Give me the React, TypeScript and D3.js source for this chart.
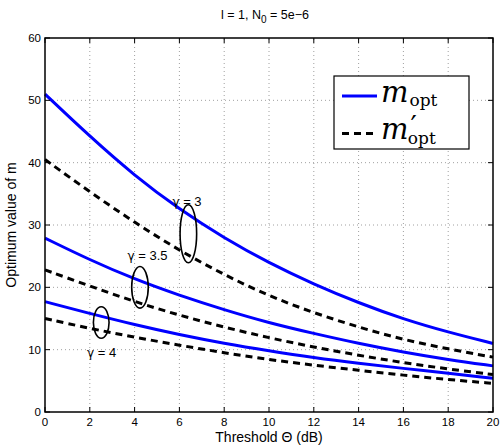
import React from "react";
import * as d3 from "d3";

const thresholds = [0, 2, 4, 6, 8, 10, 12, 14, 16, 18, 20];
const mOptG3 = [51.0, 44.2, 37.9, 32.5, 27.9, 23.9, 20.5, 17.5, 14.9, 12.8, 11.0];
const mPrimeG3 = [40.5, 35.3, 30.4, 25.9, 22.0, 18.6, 15.9, 13.6, 11.6, 10.1, 8.8];
const mOptG35 = [27.9, 24.4, 21.3, 18.7, 16.4, 14.3, 12.6, 11.0, 9.6, 8.4, 7.4];
const mPrimeG35 = [22.8, 20.2, 17.7, 15.5, 13.6, 11.9, 10.4, 9.1, 7.9, 6.9, 6.0];
const mOptG4 = [17.7, 15.8, 14.0, 12.4, 11.0, 9.8, 8.7, 7.8, 7.0, 6.2, 5.4];
const mPrimeG4 = [15.0, 13.4, 12.0, 10.7, 9.5, 8.4, 7.5, 6.7, 5.9, 5.2, 4.6];

const xTicks = [0, 2, 4, 6, 8, 10, 12, 14, 16, 18, 20];
const yTicks = [0, 10, 20, 30, 40, 50, 60];

const gammaValues = ["3", "3.5", "4"];
const ellipseCx = [6.4, 4.24, 2.51];
const ellipseCy = [28.6, 20.0, 14.36];
const ellipseRx = [0.37, 0.37, 0.35];
const ellipseRy = [4.65, 3.34, 2.53];
const labelX = [6.34, 4.58, 2.53];
const labelY = [33.0, 24.4, 8.8];

export default function App() {
  const W = 501, H = 446;
  const x = d3.scaleLinear().domain([0, 20]).range([45, 493]);
  const y = d3.scaleLinear().domain([0, 60]).range([412, 38]);
  const line = (vals: number[]) =>
    d3.line<number>().x((_, i) => x(thresholds[i])).y((v) => y(v)).curve(d3.curveBasis)(vals) || "";
  const solids = [mOptG3, mOptG35, mOptG4];
  const dashes = [mPrimeG3, mPrimeG35, mPrimeG4];
  const font = "'Liberation Sans', Arial, Helvetica, sans-serif";
  const serif = "'DejaVu Serif', serif";
  const [x0, x1] = x.range();
  const [y0, y1] = y.range();
  return (
    <svg width={W} height={H} style={{ position: "absolute", left: 0, top: 0, background: "#fff" }} fontFamily={font}>
      <rect x={0} y={0} width={W} height={H} fill="#fff" />
      {xTicks.slice(1, -1).map((t) => (
        <line key={"gx" + t} x1={x(t)} x2={x(t)} y1={y0} y2={y1} stroke="#888" strokeWidth={0.8} strokeDasharray="1,3" />
      ))}
      {yTicks.slice(1, -1).map((t) => (
        <line key={"gy" + t} x1={x0} x2={x1} y1={y(t)} y2={y(t)} stroke="#888" strokeWidth={0.8} strokeDasharray="1,3" />
      ))}
      {dashes.map((d, i) => (
        <path key={"d" + i} d={line(d)} fill="none" stroke="#000" strokeWidth={3} strokeDasharray="7,5" />
      ))}
      {solids.map((d, i) => (
        <path key={"s" + i} d={line(d)} fill="none" stroke="#0000ff" strokeWidth={3} />
      ))}
      {ellipseCx.map((cx, i) => (
        <g key={"e" + i}>
          <ellipse
            cx={x(cx)}
            cy={y(ellipseCy[i])}
            rx={x(ellipseRx[i]) - x(0)}
            ry={y(0) - y(ellipseRy[i])}
            fill="none"
            stroke="#000"
            strokeWidth={1.6}
          />
          <text x={x(labelX[i])} y={y(labelY[i])} textAnchor="middle" fontSize={13} fill="#000">
            <tspan fontFamily="'DejaVu Sans', sans-serif" fontSize={12}>γ</tspan> = {gammaValues[i]}
          </text>
        </g>
      ))}
      <rect x={x0} y={y1} width={x1 - x0} height={y0 - y1} fill="none" stroke="#000" strokeWidth={1.5} />
      {xTicks.map((t) => (
        <g key={"tx" + t}>
          <line x1={x(t)} x2={x(t)} y1={y0} y2={y0 - 5} stroke="#000" strokeWidth={1} />
          <line x1={x(t)} x2={x(t)} y1={y1} y2={y1 + 5} stroke="#000" strokeWidth={1} />
          <text x={x(t)} y={y0 + 14} textAnchor="middle" fontSize={11.5}>
            {t}
          </text>
        </g>
      ))}
      {yTicks.map((t) => (
        <g key={"ty" + t}>
          <line x1={x0} x2={x0 + 5} y1={y(t)} y2={y(t)} stroke="#000" strokeWidth={1} />
          <line x1={x1} x2={x1 - 5} y1={y(t)} y2={y(t)} stroke="#000" strokeWidth={1} />
          <text x={x0 - 4} y={y(t) + 4} textAnchor="end" fontSize={11.5}>
            {t}
          </text>
        </g>
      ))}
      <text x={(x0 + x1) / 2} y={442} textAnchor="middle" fontSize={14}>
        Threshold Θ (dB)
      </text>
      <text transform={`translate(16,${(y0 + y1) / 2}) rotate(-90)`} textAnchor="middle" fontSize={14}>
        Optimum value of m
      </text>
      <text x={265} y={19} textAnchor="middle" fontSize={12.5}>
        l = 1, N<tspan dy={4} fontSize={10}>0</tspan>
        <tspan dy={-4}> = 5e−6</tspan>
      </text>
      <g>
        <rect x={334} y={76} width={135} height={73} fill="#fff" stroke="#000" strokeWidth={1.2} />
        <line x1={342} x2={377} y1={96} y2={96} stroke="#0000ff" strokeWidth={3} />
        <line x1={342} x2={377} y1={133.5} y2={133.5} stroke="#000" strokeWidth={3} strokeDasharray="7,5" />
        <text x={381} y={102} fontFamily={serif} fontSize={29} fontStyle="italic">
          m<tspan dx={1} dy={4} fontSize={17} fontStyle="normal">opt</tspan>
        </text>
        <text x={381} y={139} fontFamily={serif} fontSize={29} fontStyle="italic">
          m<tspan dx={2} dy={-3} fontSize={28} fontStyle="normal">′</tspan>
          <tspan dx={-9} dy={8} fontSize={17} fontStyle="normal">opt</tspan>
        </text>
      </g>
    </svg>
  );
}
